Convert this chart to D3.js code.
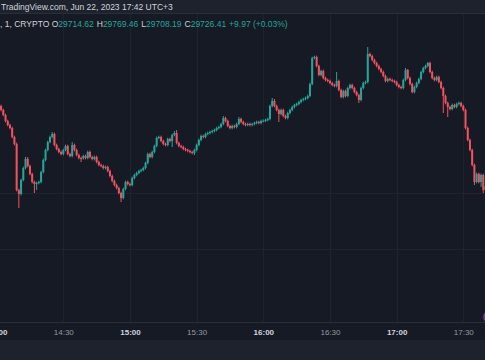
<!DOCTYPE html>
<html><head><meta charset="utf-8">
<script src="https://cdn.jsdelivr.net/npm/d3@7"></script>
<style>html,body{margin:0;padding:0;background:#161a25;overflow:hidden}svg{display:block}</style>
</head><body>
<svg id="c" width="485" height="360"></svg>
<script>
// ---- data (BTC 1-minute candles, 14:00 .. 17:42, UTC+3) ----
const startTime = "2023-06-22T14:00:00";
const opens = [29980,29975,29957,29945,29930,29912,29900,29891,29864,29843,29705,29693,29735,29771,29798,29777,29753,29729,29723,29726,
29729,29759,29795,29825,29849,29864,29873,29840,29828,29819,29813,29825,29837,29813,29807,29840,29825,29810,29801,29800,
29807,29801,29819,29804,29798,29804,29789,29780,29777,29771,29774,29762,29747,29732,29720,29711,29696,29681,29708,29729,
29723,29720,29741,29750,29756,29762,29765,29771,29786,29813,29804,29819,29837,29861,29864,29852,29843,29840,29858,29852,
29870,29876,29846,29837,29834,29828,29825,29822,29819,29816,29825,29840,29855,29867,29864,29873,29876,29879,29882,29885,
29891,29894,29903,29921,29912,29897,29891,29897,29894,29903,29918,29909,29903,29900,29903,29900,29903,29906,29909,29906,
29912,29913,29915,29918,29957,29972,29957,29945,29933,29945,29927,29921,29936,29945,29954,29960,29963,29969,29975,29978,
29981,29987,30023,30101,30104,30077,30050,30062,30041,30035,30032,30026,30020,30017,30032,30005,29984,30002,29987,30011,
30020,30011,29999,29990,29975,30011,30026,30029,30113,30107,30095,30086,30077,30068,30059,30047,30032,30038,30035,30032,
30029,30020,30014,30011,30035,30065,30041,30023,29999,30014,30026,30038,30059,30071,30077,30086,30059,30041,30035,30044,
30029,30011,29987,29966,29954,29948,29960,29954,29963,29966,29957,29945,29891,29855,29825,29780,29729,29753,29729,29750,
29705,29717,29714.62];
const closes = [29975,29957,29945,29930,29912,29900,29891,29864,29843,29705,29693,29735,29771,29798,29777,29753,29729,29723,29726,29729,
29759,29795,29825,29849,29864,29873,29840,29828,29819,29813,29825,29837,29813,29807,29840,29825,29810,29801,29800,29807,
29801,29819,29804,29798,29804,29789,29780,29777,29771,29774,29762,29747,29732,29720,29711,29696,29681,29708,29729,29723,
29720,29741,29750,29756,29762,29765,29771,29786,29813,29804,29819,29837,29861,29864,29852,29843,29840,29858,29852,29870,
29876,29846,29837,29834,29828,29825,29822,29819,29816,29825,29840,29855,29867,29864,29873,29876,29879,29882,29885,29891,
29894,29903,29921,29912,29897,29891,29897,29894,29903,29918,29909,29903,29900,29903,29900,29903,29906,29909,29906,29912,
29913,29915,29918,29957,29972,29957,29945,29933,29945,29927,29921,29936,29945,29954,29960,29963,29969,29975,29978,29981,
29987,30023,30101,30104,30077,30050,30062,30041,30035,30032,30026,30020,30017,30032,30005,29984,30002,29987,30011,30020,
30011,29999,29990,29975,30011,30026,30029,30113,30107,30095,30086,30077,30068,30059,30047,30032,30038,30035,30032,30029,
30020,30014,30011,30035,30065,30041,30023,29999,30014,30026,30038,30059,30071,30077,30086,30059,30041,30035,30044,30029,
30011,29987,29966,29954,29948,29960,29954,29963,29966,29957,29945,29891,29855,29825,29780,29729,29753,29729,29750,29705,
29717,29714.62,29726.41];
const highs = [29984,29979,29961,29949,29934,29916,29904,29895,29868,29847,29709,29739,29775,29804,29804,29781,29757,29733,29730,29733,
29763,29799,29829,29853,29868,29879,29877,29844,29832,29823,29829,29841,29841,29817,29849,29844,29829,29814,29805,29811,
29811,29823,29823,29808,29808,29808,29793,29784,29781,29778,29778,29766,29751,29736,29724,29715,29700,29712,29733,29733,
29727,29745,29754,29760,29766,29769,29775,29790,29817,29817,29823,29841,29865,29868,29868,29856,29847,29862,29862,29874,
29882,29885,29850,29841,29838,29832,29829,29826,29823,29829,29844,29859,29871,29871,29877,29880,29883,29886,29889,29895,
29898,29907,29927,29925,29916,29901,29901,29901,29907,29924,29922,29913,29907,29907,29907,29907,29910,29913,29913,29916,
29917,29919,29922,29961,29981,29978,29961,29949,29949,29949,29931,29940,29949,29958,29964,29967,29973,29979,29982,29985,
29991,30027,30105,30108,30108,30081,30066,30066,30045,30039,30036,30030,30024,30059,30036,30009,30006,30006,30015,30024,
30024,30015,30003,29994,30015,30030,30033,30134,30117,30111,30099,30090,30081,30072,30063,30051,30042,30042,30039,30036,
30033,30024,30018,30039,30071,30068,30045,30027,30018,30030,30042,30063,30075,30081,30089,30090,30063,30045,30048,30048,
30033,30015,29991,29970,29958,29964,29964,29967,29970,29970,29961,29949,29895,29859,29829,29784,29757,29757,29754,29754,
29721,29724,29769.46];
const lows = [29971,29953,29941,29926,29908,29896,29887,29860,29839,29701,29651,29689,29731,29767,29773,29749,29725,29696,29705,29722,
29725,29755,29791,29821,29845,29860,29836,29824,29815,29809,29809,29821,29809,29803,29803,29821,29806,29797,29789,29796,
29797,29797,29800,29794,29794,29785,29776,29773,29767,29767,29758,29743,29728,29716,29707,29692,29669,29677,29704,29719,
29716,29716,29737,29746,29752,29758,29761,29767,29782,29800,29800,29815,29833,29857,29848,29839,29836,29836,29848,29834,
29866,29842,29833,29830,29824,29821,29818,29815,29812,29810,29821,29836,29851,29860,29860,29869,29872,29875,29878,29881,
29887,29890,29899,29908,29893,29887,29887,29890,29890,29899,29905,29899,29896,29896,29896,29896,29899,29902,29902,29902,
29908,29909,29911,29914,29953,29953,29941,29909,29929,29923,29917,29917,29932,29941,29950,29956,29959,29965,29971,29974,
29977,29983,30019,30097,30073,30046,30046,30037,30031,30028,30022,30016,30013,30013,30001,29980,29980,29983,29983,30007,
30007,29995,29986,29966,29971,30007,30022,30025,30103,30091,30082,30073,30064,30055,30043,30028,30028,30031,30028,30025,
30016,30010,30007,30007,30031,30037,30019,29995,29995,30010,30022,30034,30055,30067,30073,30055,30037,30031,30031,30025,
30007,29936,29962,29924,29944,29944,29950,29950,29959,29953,29941,29887,29851,29821,29776,29720,29725,29725,29714,29696,
29701,29709,29708.19];
const timeTicks = ["14:00","14:30","15:00","15:30","16:00","16:30","17:00","17:30"];
const priceGridLevels = [29696, 29528];
const headerTitle = "TradingView.com, Jun 22, 2023 17:42 UTC+3";
const legendPrefix = ", 1, CRYPTO ";
const legendLabels = ["O","H","L","C"];
const legendValues = ["29714.62","29769.46","29708.19","29726.41"];
const legendChange = "+9.97 (+0.03%)";

// ---- drawing ----
const W = 485, H = 360;
const svg = d3.select("#c");
const BG = "#161a25", PANEL = "#1e222d", GRID = "#1f2330";
const UP = "#26a69a", DOWN = "#f2525f";
const plotTop = 14, plotBottom = 322;

const t0 = new Date(startTime);
const parseHM = s => { const [h,m] = s.split(":").map(Number); const d = new Date(t0); d.setHours(h, m, 0, 0); return d; };
const candles = closes.map((c, i) => ({
  t: new Date(t0.getTime() + i * 60000), o: opens[i], h: highs[i], l: lows[i], c
}));

const x = d3.scaleTime().domain([parseHM("14:30"), parseHM("17:30")]).range([63.3, 463.3]);
const y = d3.scaleLinear().domain([29720, 30125]).range([185, 50]);

svg.append("rect").attr("width", W).attr("height", H).attr("fill", BG);

// grid
const gridG = svg.append("g");
timeTicks.forEach(s => {
  const gx = Math.round(x(parseHM(s))) + 0.5;
  gridG.append("line").attr("x1", gx).attr("x2", gx).attr("y1", plotTop).attr("y2", plotBottom)
    .attr("stroke", GRID).attr("stroke-width", 1);
});
priceGridLevels.forEach(p => {
  const gy = Math.round(y(p)) + 0.5;
  gridG.append("line").attr("x1", 0).attr("x2", W).attr("y1", gy).attr("y2", gy)
    .attr("stroke", GRID).attr("stroke-width", 1);
});

// candles
const cg = svg.append("g");
const bw = 2.0;
candles.forEach(d => {
  const cx = x(d.t);
  const col = d.c >= d.o ? UP : DOWN;
  cg.append("line").attr("x1", cx).attr("x2", cx).attr("y1", y(d.h)).attr("y2", y(d.l))
    .attr("stroke", col).attr("stroke-width", 1);
  const top = y(Math.max(d.o, d.c)), bot = y(Math.min(d.o, d.c));
  cg.append("rect").attr("x", cx - bw / 2).attr("y", top).attr("width", bw)
    .attr("height", Math.max(1, bot - top)).attr("fill", col);
});

// header panel
svg.append("rect").attr("x", 0).attr("y", 0).attr("width", W).attr("height", 13.5).attr("fill", PANEL);
svg.append("line").attr("x1", 0).attr("x2", W).attr("y1", 13.5).attr("y2", 13.5).attr("stroke", "#2a2e39");
svg.append("text").attr("x", 1).attr("y", 10).attr("fill", "#d1d4dc")
  .style("font", "8.5px 'Liberation Sans', Arial, sans-serif").text(headerTitle);

// legend line
const lg = svg.append("text").attr("x", 0).attr("y", 27)
  .style("font", "8.5px 'Liberation Sans', Arial, sans-serif");
lg.append("tspan").attr("fill", "#d1d4dc").text(legendPrefix);
legendLabels.forEach((lab, i) => {
  lg.append("tspan").attr("fill", "#d1d4dc").attr("dx", i ? 3 : 0).text(lab);
  lg.append("tspan").attr("fill", UP).text(legendValues[i]);
});
lg.append("tspan").attr("fill", UP).attr("dx", 3).text(legendChange);

// time axis
svg.append("rect").attr("x", 0).attr("y", plotBottom).attr("width", W).attr("height", 340 - plotBottom).attr("fill", BG);
svg.append("line").attr("x1", 0).attr("x2", W).attr("y1", plotBottom + 0.5).attr("y2", plotBottom + 0.5).attr("stroke", "#2a2e39");
const axis = d3.axisBottom(x).tickValues(timeTicks.map(parseHM)).tickSize(0).tickPadding(0)
  .tickFormat(d3.timeFormat("%H:%M"));
const ag = svg.append("g").attr("transform", `translate(0,${plotBottom + 7})`).call(axis);
ag.select(".domain").remove();
ag.selectAll("text")
  .style("font", "8px 'Liberation Sans', Arial, sans-serif")
  .attr("fill", (d) => d.getMinutes() === 0 ? "#d1d4dc" : "#9598a1")
  .style("font-weight", (d) => d.getMinutes() === 0 ? "bold" : "normal");

// bottom panel
svg.append("rect").attr("x", 0).attr("y", 340).attr("width", W).attr("height", 20).attr("fill", PANEL);

// purple marker at right edge
svg.append("circle").attr("cx", 489).attr("cy", 317).attr("r", 6).attr("fill", "#8e3fb0").attr("opacity", 0.8);
</script>
</body></html>
